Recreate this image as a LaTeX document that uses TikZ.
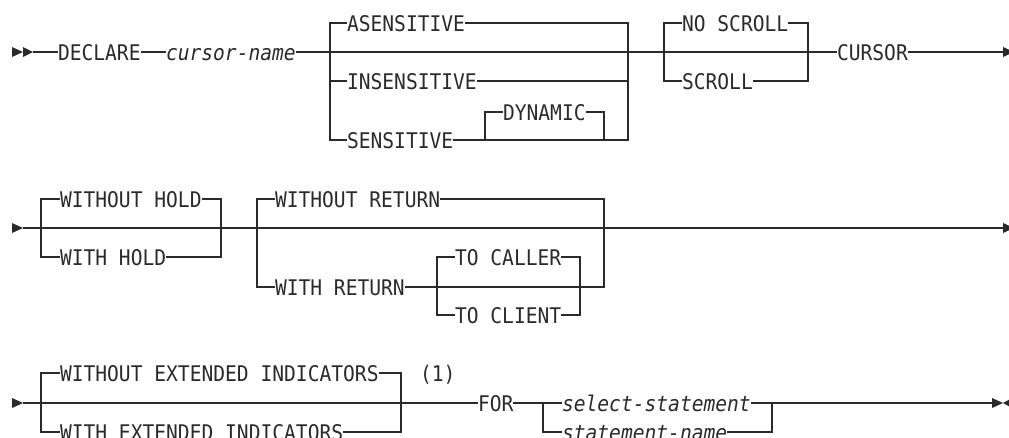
\documentclass[tikz,border=0pt]{standalone}
\usepackage{fontspec}
\usepackage{graphicx}
\newfontfamily\kwfont{DejaVu Sans Mono}
\definecolor{ink}{HTML}{2A2A2A}
\newcommand{\K}[1]{\scalebox{1}[1.1]{#1}}
\newcommand{\KI}[1]{\scalebox{1}[1.1]{\itshape #1}}
\tikzset{
  kw/.style={inner sep=0pt, outer sep=0pt, text height=16pt, text depth=0pt, anchor=west,
    text=ink, font=\kwfont\fontsize{19.6}{20}\selectfont},
  ln/.style={line width=1.2pt, draw=ink},
  tip/.style={fill=ink, draw=none},
}
\begin{document}
\begin{tikzpicture}[x=1pt,y=-1pt]
\useasboundingbox (0,0) rectangle (1009,437);

% ---------------- Row 1 ----------------
\fill[tip] (12,47) -- (23,52) -- (12,57) -- cycle;
\fill[tip] (23,47) -- (33,52) -- (23,57) -- cycle;
\coordinate (S1) at (33,52);
\node[kw] (declare) at (58,52) {\K{DECLARE}};
\node[kw] (cursor) at (166,52) {\KI{cursor-name}};
\coordinate (L1) at (330,52);
\coordinate (R1) at (628,52);
\node[kw] (asens) at (347,23) {\K{ASENSITIVE}};
\node[kw] (insens) at (347,81) {\K{INSENSITIVE}};
\node[kw] (sens) at (347,140) {\K{SENSITIVE}};
\coordinate (D1) at (485,140);
\coordinate (D2) at (604,140);
\node[kw] (dyn) at (503,112) {\K{DYNAMIC}};
\coordinate (L2) at (664,52);
\coordinate (R2) at (808,52);
\node[kw] (noscroll) at (682,23) {\K{NO SCROLL}};
\node[kw] (scroll) at (682,81) {\K{SCROLL}};
\node[kw] (cur) at (837,52) {\K{CURSOR}};
\coordinate (E1) at (1003,52);

\draw[ln] (S1) -- (declare.west);
\draw[ln] (declare.east) -- (cursor.west);
\draw[ln] (cursor.east) -- (L1) -- (R1) -- (L2) -- (R2) -- (cur.west);
\draw[ln] (asens.west) -| (L1);
\draw[ln] (insens.west) -| (L1);
\draw[ln] (sens.west) -| (L1);
\draw[ln] (asens.east) -| (R1);
\draw[ln] (insens.east) -| (R1);
\draw[ln] (sens.east) -- (D2) -| (R1);
\draw[ln] (D1) |- (dyn.west);
\draw[ln] (dyn.east) -| (D2);
\draw[ln] (noscroll.west) -| (L2);
\draw[ln] (scroll.west) -| (L2);
\draw[ln] (noscroll.east) -| (R2);
\draw[ln] (scroll.east) -| (R2);
\draw[ln] (cur.east) -- (E1);
\fill[tip] (E1) ++(0,-5) -- ++(11,5) -- ++(-11,5) -- cycle;

% ---------------- Row 2 ----------------
\fill[tip] (12,223) -- (23,228) -- (12,233) -- cycle;
\coordinate (S2) at (23,228);
\coordinate (L3) at (41,228);
\coordinate (R3) at (221,228);
\node[kw] (wohold) at (60,199) {\K{WITHOUT HOLD}};
\node[kw] (whold) at (60,257) {\K{WITH HOLD}};
\coordinate (L4) at (257,228);
\coordinate (R4) at (604,228);
\node[kw] (woret) at (275,199) {\K{WITHOUT RETURN}};
\node[kw] (wret) at (275,287) {\K{WITH RETURN}};
\coordinate (T1) at (437,287);
\coordinate (T2) at (580,287);
\node[kw] (tocaller) at (455,257) {\K{TO CALLER}};
\node[kw] (toclient) at (455,315) {\K{TO CLIENT}};
\coordinate (E2) at (1003,228);

\draw[ln] (S2) -- (L3) -- (R3) -- (L4) -- (R4) -- (E2);
\draw[ln] (wohold.west) -| (L3);
\draw[ln] (whold.west) -| (L3);
\draw[ln] (wohold.east) -| (R3);
\draw[ln] (whold.east) -| (R3);
\draw[ln] (woret.west) -| (L4);
\draw[ln] (wret.west) -| (L4);
\draw[ln] (woret.east) -| (R4);
\draw[ln] (wret.east) -| (R4);
\draw[ln] (tocaller.west) -| (T1);
\draw[ln] (toclient.west) -| (T1);
\draw[ln] (tocaller.east) -| (T2);
\draw[ln] (toclient.east) -| (T2);
\fill[tip] (E2) ++(0,-5) -- ++(11,5) -- ++(-11,5) -- cycle;

% ---------------- Row 3 ----------------
\fill[tip] (12,398) -- (23,403) -- (12,408) -- cycle;
\coordinate (S3) at (23,403);
\coordinate (L6) at (41,403);
\coordinate (R6) at (401,403);
\node[kw] (woext) at (60,373) {\K{WITHOUT EXTENDED INDICATORS}};
\node[kw] (wext) at (60,432) {\K{WITH EXTENDED INDICATORS}};
\node[kw] (note) at (420,373) {\K{(1)}};
\node[kw] (forn) at (478,403) {\K{FOR}};
\coordinate (L7) at (543,403);
\coordinate (R7) at (772,403);
\node[kw] (selst) at (562,403) {\KI{select-statement}};
\node[kw] (stname) at (562,432) {\KI{statement-name}};
\coordinate (E3) at (992,403);

\draw[ln] (S3) -- (L6) -- (R6) -- (forn.west);
\draw[ln] (woext.west) -| (L6);
\draw[ln] (wext.west) -| (L6);
\draw[ln] (woext.east) -| (R6);
\draw[ln] (wext.east) -| (R6);
\draw[ln] (forn.east) -- (L7) -- (selst.west);
\draw[ln] (stname.west) -| (L7);
\draw[ln] (selst.east) -- (R7) -- (E3);
\draw[ln] (stname.east) -| (R7);
\fill[tip] (E3) ++(0,-5) -- ++(11,5) -- ++(-11,5) -- cycle;
\fill[tip] (1003,403) -- (1014,397) -- (1014,409) -- cycle;
\end{tikzpicture}
\end{document}
